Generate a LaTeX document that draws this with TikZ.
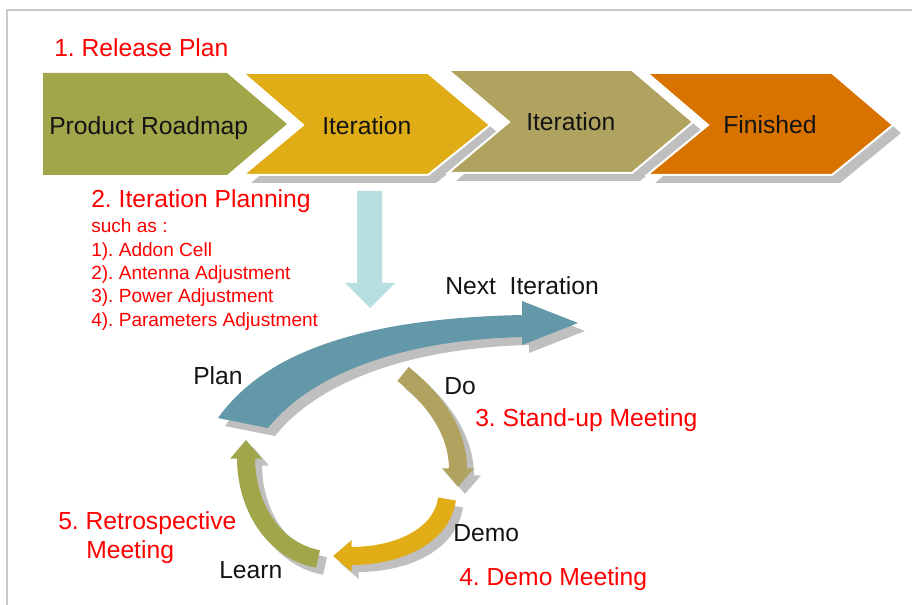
\documentclass[tikz,border=0pt]{standalone}
\usepackage{fontspec}
\setmainfont{Liberation Sans}
\usetikzlibrary{arrows.meta}
\frenchspacing

\definecolor{cgreen}{RGB}{162,166,75}
\definecolor{cyellow}{RGB}{224,173,23}
\definecolor{ckhaki}{RGB}{176,162,95}
\definecolor{corange}{RGB}{217,115,0}
\definecolor{cblue}{RGB}{99,152,169}
\definecolor{ccyan}{RGB}{183,223,226}
\definecolor{cshadow}{RGB}{191,191,191}
\definecolor{cframe}{RGB}{200,200,200}
\definecolor{cred}{RGB}{255,0,0}
\definecolor{cink}{RGB}{20,20,20}

\tikzset{
  chev/.style={draw=white, line width=1.5pt, line join=miter},
  shade/.style={fill=cshadow},
  bigtxt/.style={inner sep=0pt, anchor=base west, font=\fontsize{18.5}{22}\selectfont, text=cink},
  redtxt/.style={bigtxt, text=cred},
  listtxt/.style={inner sep=0pt, anchor=base west, font=\fontsize{14.3}{17}\selectfont, text=cred},
  ring/.style={line width=13.5pt, -{Triangle[length=14pt,width=23pt]}},
}

\begin{document}
\begin{tikzpicture}[x=0.75pt,y=-0.75pt]
  % canvas and frame
  \fill[white] (0,0) rectangle (912,605);
  \useasboundingbox (0,0) rectangle (912,605);
  \draw[cframe, line width=0.9pt] (7,605) -- (7,10) -- (912,10);

  % release plan chevrons
  \fill[cgreen] (43,73) -- (227,73) -- (287,124) -- (227,175) -- (43,175) -- cycle;

  \fill[shade, shift={(8,8)}] (243,73) -- (428,73) -- (490,125) -- (428,175) -- (243,175) -- (303,125) -- cycle;
  \filldraw[chev, fill=cyellow] (243,73) -- (428,73) -- (490,125) -- (428,175) -- (243,175) -- (303,125) -- cycle;

  \fill[shade, shift={(8,8)}] (448,70) -- (632,70) -- (693,122) -- (632,173) -- (448,173) -- (509,122) -- cycle;
  \filldraw[chev, fill=ckhaki] (448,70) -- (632,70) -- (693,122) -- (632,173) -- (448,173) -- (509,122) -- cycle;

  \fill[shade, shift={(8,8)}] (647,73) -- (832,73) -- (893,125) -- (832,175) -- (647,175) -- (708,125) -- cycle;
  \filldraw[chev, fill=corange] (647,73) -- (832,73) -- (893,125) -- (832,175) -- (647,175) -- (708,125) -- cycle;

  \node[redtxt] (release) at (54,57) {1. Release Plan};
  \node[bigtxt] (roadmap) at (49,135) {Product Roadmap};
  \node[bigtxt] (iterA) at (322,135) {Iteration};
  \node[bigtxt] (iterB) at (526,131) {Iteration};
  \node[bigtxt] (finished) at (723,134) {Finished};

  % iteration planning notes
  \node[redtxt] (planning) at (91,208) {2. Iteration Planning};
  \node[listtxt] (suchas) at (91,233) {such as :};
  \node[listtxt] (item1) at (91,256.3) {1). Addon Cell};
  \node[listtxt] (item2) at (91,279.6) {2). Antenna Adjustment};
  \node[listtxt] (item3) at (91,302.9) {3). Power Adjustment};
  \node[listtxt] (item4) at (91,326.2) {4). Parameters Adjustment};

  % downward arrow into the cycle
  \fill[ccyan] (357,191) -- (382,191) -- (382,283) -- (395,283) -- (370,308) -- (345,283) -- (357,283) -- cycle;

  % sweeping arrow towards the next iteration
  \fill[shade, shift={(7,8)}] (218,418) .. controls (270,345) and (380,318) .. (522,315) -- (522,301) -- (578,323) -- (522,345) -- (522,337) .. controls (400,340) and (310,375) .. (268,428) -- cycle;
  \fill[cblue] (218,418) .. controls (270,345) and (380,318) .. (522,315) -- (522,301) -- (578,323) -- (522,345) -- (522,337) .. controls (400,340) and (310,375) .. (268,428) -- cycle;

  % cycle arrows: shadows first
  \begin{scope}[shift={(7,7)}]
    \draw[ring, cshadow] (403,374) .. controls (433,398) and (458,430) .. (458,487);
    \draw[ring, cshadow] (447,499) .. controls (442,535) and (400,556) .. (333,556);
    \draw[ring, cshadow] (318,559) .. controls (272,550) and (246,505) .. (246,440);
  \end{scope}
  \draw[ring, ckhaki] (403,374) .. controls (433,398) and (458,430) .. (458,487);
  \draw[ring, cyellow] (447,499) .. controls (442,535) and (400,556) .. (333,556);
  \draw[ring, cgreen] (318,559) .. controls (272,550) and (246,505) .. (246,440);

  % cycle labels
  \node[bigtxt] (next) at (445,295) {Next\ \ Iteration};
  \node[bigtxt] (plan) at (193,384) {Plan};
  \node[bigtxt] (do) at (444,394) {Do};
  \node[bigtxt] (demo) at (453,541) {Demo};
  \node[bigtxt] (learn) at (219,578) {Learn};
  \node[redtxt] (standup) at (475,426) {3. Stand-up Meeting};
  \node[redtxt] (demomeet) at (459,585) {4. Demo Meeting};
  \node[redtxt] (retro) at (58,529) {5. Retrospective};
  \node[redtxt] (retro2) at (86,558) {Meeting};
\end{tikzpicture}
\end{document}
